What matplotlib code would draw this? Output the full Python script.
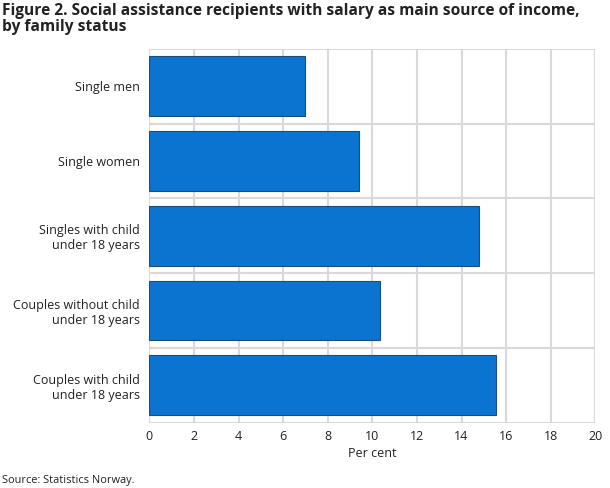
import numpy as np
from matplotlib import pyplot as plt

plt.rcParams['font.family'] = ['Open Sans', 'DejaVu Sans']

categories = ["Single men", "Single women", "Singles with child\nunder 18 years",
              "Couples without child\nunder 18 years", "Couples with child\nunder 18 years"]
values = [7.0, 9.4, 14.8, 10.35, 15.55]
xticks = [0, 2, 4, 6, 8, 10, 12, 14, 16, 18, 20]

fig = plt.figure(figsize=(6.1, 4.88), dpi=100)
ax = fig.add_axes([0.2448, 0.1338, 0.7311, 0.7658])

y = np.arange(len(categories))
ax.barh(y, values, height=0.8, color="#0a74d0", edgecolor="#1d4d7a", linewidth=0.8, zorder=3)

ax.set_ylim(len(categories) - 0.5, -0.5)
ax.set_xlim(0, 20)
ax.set_yticks(y)
ax.set_yticklabels(categories, fontsize=9, color="#222222")
ax.set_yticks(np.arange(-0.5, len(categories)), minor=True)
ax.set_xticks(xticks)
ax.set_xticklabels([str(t) for t in xticks], fontsize=9, color="#222222")
ax.tick_params(axis="y", which="both", length=0, pad=7)
ax.tick_params(axis="x", length=0, pad=5)

ax.grid(axis="x", color="#d9d9d9", linewidth=1.5, zorder=0)
ax.grid(axis="y", which="minor", color="#d9d9d9", linewidth=1.5, zorder=0)
for s in ax.spines.values():
    s.set_visible(False)

ax.set_xlabel("Per cent", fontsize=9, color="#222222", labelpad=3)

fig.text(0.003, 0.993, "Figure 2. Social assistance recipients with salary as main source of income,\nby family status",
         fontsize=11.2, fontweight="bold", va="top", ha="left", color="#222222", linespacing=1.0)
fig.text(0.003, 0.004, "Source: Statistics Norway.", fontsize=7.9, color="#222222", ha="left", va="bottom")

fig.savefig("out.png", dpi=100)
